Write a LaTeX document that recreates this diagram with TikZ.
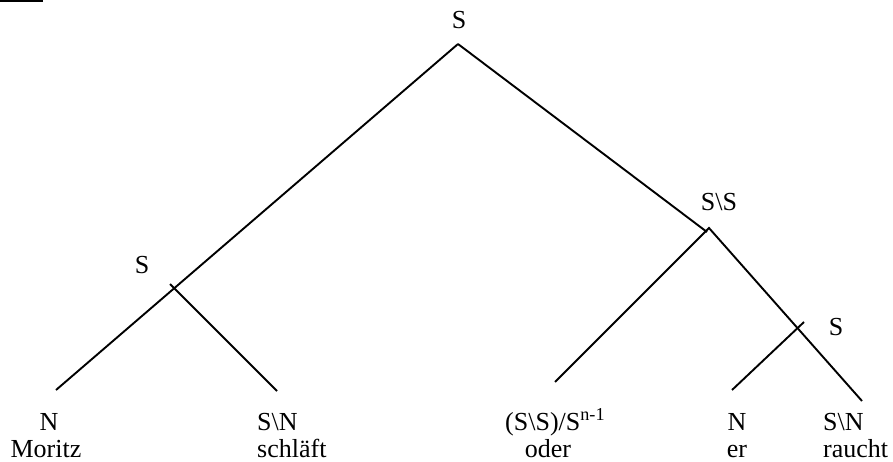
\documentclass[tikz,border=0pt]{standalone}
\usepackage{fontspec}
\setmainfont{Liberation Serif}
\begin{document}
\begin{tikzpicture}[x=1pt,y=-1pt,
  branch/.style={line width=1.9pt, line join=miter},
  lbl/.style={inner sep=0pt, font=\fontsize{26}{30}\selectfont}]
\useasboundingbox (0,0) rectangle (893,461);
% short rule at top left
\coordinate (ruleA) at (0,1);
\coordinate (ruleB) at (43,1);
\draw[branch] (ruleA) -- (ruleB);
% joints and ends
\coordinate (top) at (458,44);
\coordinate (jL) at (173,287);
\coordinate (tickL) at (170,284);
\coordinate (jRin) at (707,232);
\coordinate (jR) at (709,228);
\coordinate (tickS) at (804,322);
\coordinate (eMoritz) at (56,390);
\coordinate (eSchlaeft) at (277,391);
\coordinate (eOder) at (555,382);
\coordinate (eEr) at (732,390);
\coordinate (eRaucht) at (862,401);
% branches
\draw[branch] (top) -- (eMoritz);
\draw[branch] (top) -- (jRin);
\draw[branch] (tickL) -- (eSchlaeft);
\draw[branch] (eOder) -- (jR) -- (eRaucht);
\draw[branch] (eEr) -- (tickS);
% category labels
\node[lbl, anchor=base] (sTop) at (459,28) {S};
\node[lbl, anchor=base] (sLeft) at (142,273) {S};
\node[lbl, anchor=base] (sSS) at (719,210) {S\textbackslash S};
\node[lbl, anchor=base] (sRight) at (836,335) {S};
% leaves
\node[lbl, anchor=base] (cMoritz) at (49,430) {N};
\node[lbl, anchor=base] (wMoritz) at (46,457) {Moritz};
\node[lbl, anchor=base west] (cSchlaeft) at (257,430) {S\textbackslash N};
\node[lbl, anchor=base west] (wSchlaeft) at (257,457) {schläft};
\node[lbl, anchor=base west] (cOder) at (505,430) {(S\textbackslash S)/S\textsuperscript{n-1}};
\node[lbl, anchor=base] (wOder) at (548,457) {oder};
\node[lbl, anchor=base] (cEr) at (737,430) {N};
\node[lbl, anchor=base] (wEr) at (737,457) {er};
\node[lbl, anchor=base west] (cRaucht) at (823,430) {S\textbackslash N};
\node[lbl, anchor=base west] (wRaucht) at (823,457) {raucht};
\end{tikzpicture}
\end{document}
